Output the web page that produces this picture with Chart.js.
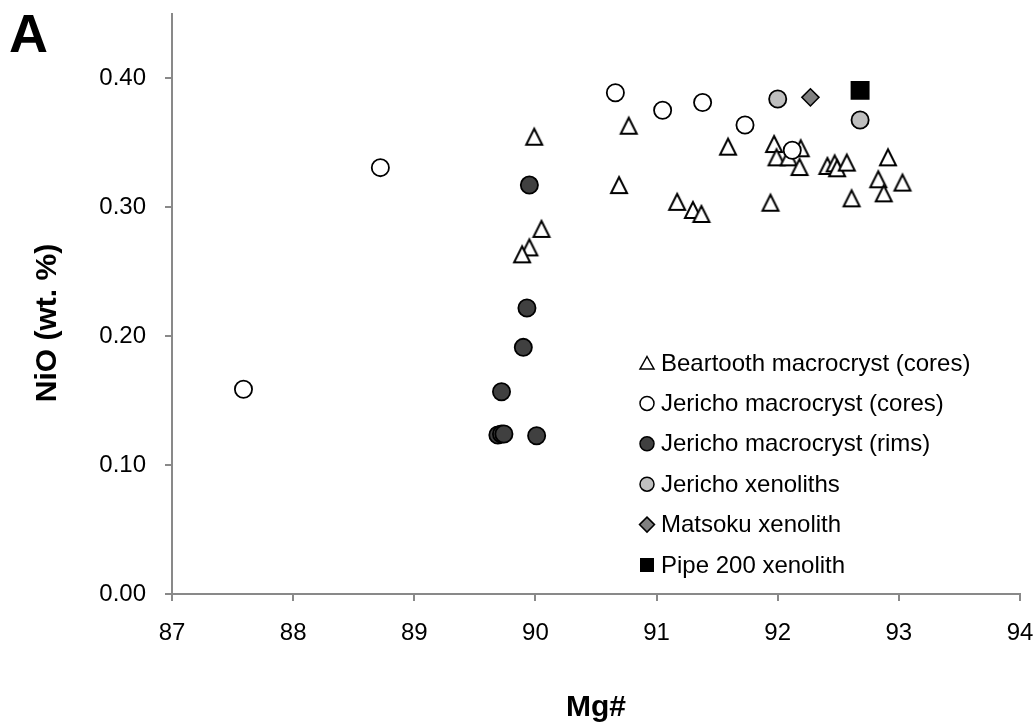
<!DOCTYPE html>
<html>
<head>
<meta charset="utf-8">
<script src="https://cdn.jsdelivr.net/npm/chart.js@4.4.1/dist/chart.umd.min.js"></script>
<style>
  html, body { margin: 0; padding: 0; background: #ffffff; }
  #wrap { width: 1036px; height: 726px; position: relative; }
</style>
</head>
<body>
<div id="wrap"><canvas id="c" width="1036" height="726"></canvas></div>
<script>
// ---- Data ----
const seriesNames = [
  "Beartooth macrocryst (cores)",
  "Jericho macrocryst (cores)",
  "Jericho macrocryst (rims)",
  "Jericho xenoliths",
  "Matsoku xenolith",
  "Pipe 200 xenolith"
];

const beartoothMg  = [90.77, 89.99, 90.69, 90.05, 89.95, 89.89, 91.17, 91.30, 91.37, 91.59, 91.97, 91.99, 92.09, 92.19, 92.18, 92.41, 92.47, 92.49, 92.57, 92.91, 92.83, 93.03, 92.875, 92.61, 91.94];
const beartoothNiO = [0.363, 0.3545, 0.317, 0.283, 0.2687, 0.2633, 0.304, 0.2977, 0.2946, 0.3468, 0.3488, 0.3385, 0.3385, 0.3455, 0.331, 0.3318, 0.3338, 0.330, 0.3344, 0.3385, 0.3215, 0.3189, 0.3106, 0.3067, 0.3033];

const jerichoCoreMg  = [90.66, 91.05, 91.38, 91.73, 92.12, 88.72, 87.59];
const jerichoCoreNiO = [0.3886, 0.375, 0.381, 0.3636, 0.344, 0.3305, 0.1587];

const jerichoRimMg  = [89.95, 89.93, 89.90, 89.72, 89.69, 89.72, 89.74, 90.01];
const jerichoRimNiO = [0.317, 0.2217, 0.1912, 0.1568, 0.1233, 0.124, 0.124, 0.1227];

const jerichoXenoMg  = [92.00, 92.68];
const jerichoXenoNiO = [0.3837, 0.3674];

const matsokuMg  = [92.27];
const matsokuNiO = [0.385];

const pipe200Mg  = [92.68];
const pipe200NiO = [0.3904];

const xTicks = [87, 88, 89, 90, 91, 92, 93, 94];
const yTicks = [0.00, 0.10, 0.20, 0.30, 0.40];

const toPts = (xs, ys) => xs.map((x, i) => ({ x: x, y: ys[i] }));

// ---- Marker images ----
function triangleImage(size, lw) {
  const cv = document.createElement('canvas');
  cv.width = size + 4; cv.height = size + 4;
  const g = cv.getContext('2d');
  const c = cv.width / 2, h = size / 2 - lw / 2;
  g.beginPath();
  g.moveTo(c, c - h);
  g.lineTo(c + h, c + h);
  g.lineTo(c - h, c + h);
  g.closePath();
  g.fillStyle = '#ffffff';
  g.fill();
  g.lineWidth = lw;
  g.lineJoin = 'miter';
  g.strokeStyle = '#000000';
  g.stroke();
  return cv;
}
const triImg = triangleImage(18, 2);

const FONT = "'Liberation Sans', Arial, Helvetica, sans-serif";

// ---- Legend & titles plugin ----
const extrasPlugin = {
  id: 'extras',
  afterDraw(chart) {
    const ctx = chart.ctx;
    ctx.save();
    ctx.fillStyle = '#000';
    ctx.font = "bold 54px " + FONT;
    ctx.textAlign = 'left';
    ctx.textBaseline = 'alphabetic';
    ctx.fillText('A', 9, 52);
    ctx.font = "bold 30px " + FONT;
    ctx.textAlign = 'center';
    ctx.fillText('Mg#', 596, 716);
    ctx.save();
    ctx.translate(48, 323);
    ctx.rotate(-Math.PI / 2);
    ctx.textBaseline = 'middle';
    ctx.fillText('NiO (wt. %)', 0, 0);
    ctx.restore();

    const mx = 647, tx = 661, y0 = 363, dy = 40.4;
    ctx.font = "24px " + FONT;
    ctx.textAlign = 'left';
    ctx.textBaseline = 'middle';
    seriesNames.forEach((name, i) => {
      const y = y0 + i * dy;
      ctx.lineWidth = 1.5;
      ctx.strokeStyle = '#000';
      ctx.beginPath();
      if (i === 0) {
        ctx.moveTo(mx, y - 6.5); ctx.lineTo(mx + 7, y + 6); ctx.lineTo(mx - 7, y + 6); ctx.closePath();
        ctx.fillStyle = '#fff'; ctx.fill(); ctx.stroke();
      } else if (i <= 3) {
        ctx.arc(mx, y, 7, 0, Math.PI * 2);
        ctx.fillStyle = i === 1 ? '#ffffff' : (i === 2 ? '#404040' : '#bfbfbf');
        ctx.fill(); ctx.stroke();
      } else if (i === 4) {
        ctx.moveTo(mx, y - 7.5); ctx.lineTo(mx + 7.5, y); ctx.lineTo(mx, y + 7.5); ctx.lineTo(mx - 7.5, y); ctx.closePath();
        ctx.fillStyle = '#808080'; ctx.fill(); ctx.stroke();
      } else {
        ctx.fillStyle = '#000'; ctx.fillRect(mx - 7, y - 7, 14, 14);
      }
      ctx.fillStyle = '#000';
      ctx.fillText(name, tx, y + 1);
    });
    ctx.restore();
  }
};

const axisColor = '#898989';

new Chart(document.getElementById('c'), {
  type: 'scatter',
  data: {
    datasets: [
      { label: seriesNames[0], data: toPts(beartoothMg, beartoothNiO), pointStyle: triImg, order: 6 },
      { label: seriesNames[1], data: toPts(jerichoCoreMg, jerichoCoreNiO), pointStyle: 'circle', radius: 8.6,
        backgroundColor: '#ffffff', borderColor: '#000', borderWidth: 1.8, order: 5 },
      { label: seriesNames[2], data: toPts(jerichoRimMg, jerichoRimNiO), pointStyle: 'circle', radius: 8.6,
        backgroundColor: '#404040', borderColor: '#000', borderWidth: 1.8, order: 4 },
      { label: seriesNames[3], data: toPts(jerichoXenoMg, jerichoXenoNiO), pointStyle: 'circle', radius: 8.6,
        backgroundColor: '#bfbfbf', borderColor: '#000', borderWidth: 1.8, order: 3 },
      { label: seriesNames[4], data: toPts(matsokuMg, matsokuNiO), pointStyle: 'rectRot', radius: 8.6,
        backgroundColor: '#808080', borderColor: '#000', borderWidth: 1.5, order: 2 },
      { label: seriesNames[5], data: toPts(pipe200Mg, pipe200NiO), pointStyle: 'rect', radius: 13.4,
        backgroundColor: '#000000', borderColor: '#000', borderWidth: 0, order: 1 }
    ]
  },
  options: {
    responsive: false,
    animation: false,
    events: [],
    layout: { padding: { top: 13.5, right: 16, left: 0, bottom: 0 } },
    plugins: { legend: { display: false }, tooltip: { enabled: false }, title: { display: false } },
    scales: {
      x: {
        type: 'linear', min: 87, max: 94,
        afterBuildTicks: (s) => { s.ticks = xTicks.map(v => ({ value: v })); },
        afterFit: (s) => { s.height = 132; s.paddingLeft = 0; s.paddingRight = 0; s.paddingTop = 0; s.paddingBottom = 0; },
        ticks: { color: '#000', font: { family: FONT, size: 24 }, padding: 18, maxRotation: 0,
                 callback: (v) => String(v) },
        grid: { drawOnChartArea: false, drawTicks: true, tickLength: 7, color: axisColor, lineWidth: 2 },
        border: { display: true, color: axisColor, width: 2 }
      },
      y: {
        type: 'linear', min: 0, max: 0.45,
        afterBuildTicks: (s) => { s.ticks = yTicks.map(v => ({ value: v })); },
        afterFit: (s) => { s.width = 172; s.paddingLeft = 0; s.paddingRight = 0; s.paddingTop = 0; s.paddingBottom = 0; },
        ticks: { color: '#000', font: { family: FONT, size: 24 }, padding: 19,
                 callback: (v) => Number(v).toFixed(2) },
        grid: { drawOnChartArea: false, drawTicks: true, tickLength: 7, color: axisColor, lineWidth: 2 },
        border: { display: true, color: axisColor, width: 2 }
      }
    }
  },
  plugins: [extrasPlugin]
});
</script>
</body>
</html>
